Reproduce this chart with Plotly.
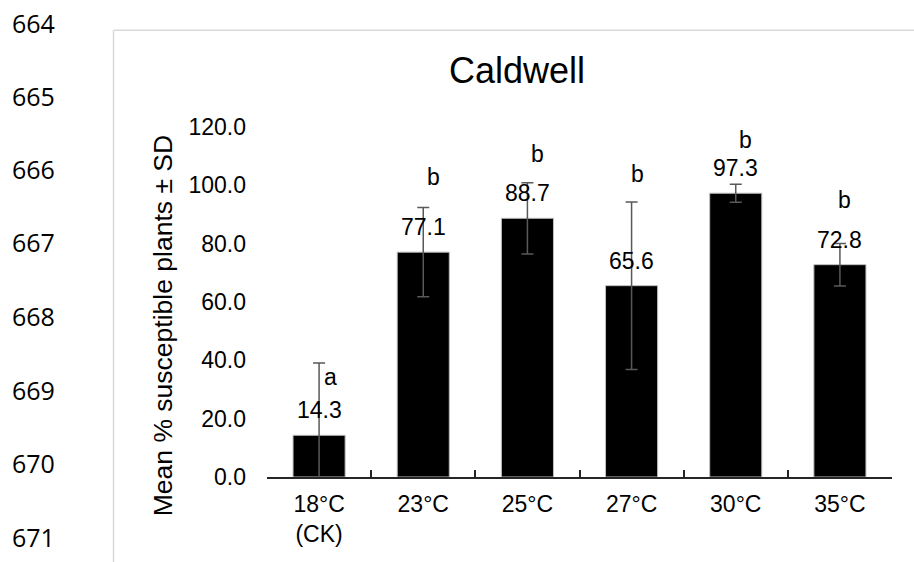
import plotly.graph_objects as go

# ---- data ----
categories = ["18°C<br>(CK)", "23°C", "25°C", "27°C", "30°C", "35°C"]
means = [14.3, 77.1, 88.7, 65.6, 97.3, 72.8]
sds = [24.8, 15.3, 12.2, 28.7, 3.1, 7.3]
letters = ["a", "b", "b", "b", "b", "b"]
letter_y = [34.3, 102.8, 110.8, 104.0, 115.4, 95.0]
letter_dx = [11, 10, 10, 6, 10, 5]
y_ticks = [0, 20, 40, 60, 80, 100, 120]
line_numbers = ["664", "665", "666", "667", "668", "669", "670", "671"]
line_number_py = [22, 95.5, 169, 242, 316, 390, 463, 537]

# ---- layout geometry (screen pixels; body margin removed via post_script) ----
W, H = 914, 562
L, R, T, B = 267, 892, 126.5, 477


def px_x(px):
    return (px - L) / (R - L)


def px_y(py):
    return (B - py) / (B - T)


FONT = "Liberation Sans, Arial, sans-serif"

fig = go.Figure()
fig.add_trace(go.Bar(
    x=categories,
    y=means,
    marker=dict(color="#000000", line=dict(color="#bfbfbf", width=1)),
    error_y=dict(type="data", array=sds, visible=True,
                 color="#595959", thickness=1.5, width=6),
    showlegend=False,
    hoverinfo="x+y",
))

annotations = []
# data labels
for c, m in zip(categories, means):
    annotations.append(dict(
        x=c, y=m, xref="x", yref="y", text=f"{m:.1f}", showarrow=False,
        yanchor="middle", xanchor="center", yshift=25,
        font=dict(family=FONT, size=23, color="#000000")))
# significance letters
for c, lt, ly, dx in zip(categories, letters, letter_y, letter_dx):
    annotations.append(dict(
        x=c, y=ly, xref="x", yref="y", text=lt, showarrow=False,
        yanchor="middle", xanchor="center", xshift=dx,
        font=dict(family=FONT, size=23, color="#000000")))
# title
annotations.append(dict(
    x=px_x(517), y=px_y(70), xref="paper", yref="paper", text="Caldwell",
    showarrow=False, xanchor="center", yanchor="middle",
    font=dict(family=FONT, size=36, color="#000000")))
# y axis title
annotations.append(dict(
    x=px_x(163), y=px_y(326), xref="paper", yref="paper",
    text="Mean % susceptible plants ± SD", textangle=-90,
    showarrow=False, xanchor="center", yanchor="middle",
    font=dict(family=FONT, size=26.5, color="#000000")))
# document line numbers
for ln, py in zip(line_numbers, line_number_py):
    annotations.append(dict(
        x=px_x(10), y=px_y(py), xref="paper", yref="paper", text=ln,
        showarrow=False, xanchor="left", yanchor="middle",
        font=dict(family="Open Sans, Noto Sans, sans-serif", size=25,
                  color="#000000")))

shapes = [
    # chart frame (top and left edges visible)
    dict(type="line", xref="paper", yref="paper",
         x0=px_x(113.5), x1=px_x(930), y0=px_y(29.5), y1=px_y(29.5),
         line=dict(color="#d9d9d9", width=1.5)),
    dict(type="line", xref="paper", yref="paper",
         x0=px_x(113.5), x1=px_x(113.5), y0=px_y(29.5), y1=px_y(580),
         line=dict(color="#d9d9d9", width=1.5)),
]

fig.update_layout(
    width=W, height=H, autosize=False,
    margin=dict(l=L, r=W - R, t=T, b=H - B, pad=0),
    paper_bgcolor="white", plot_bgcolor="white",
    bargap=0.5,
    annotations=annotations,
    shapes=shapes,
    xaxis=dict(
        showline=True, linecolor="#262626", linewidth=1.5,
        ticks="inside", ticklen=7, tickcolor="#262626", tickwidth=1.5,
        tickson="boundaries", showgrid=False, zeroline=False,
        tickfont=dict(family=FONT, size=23, color="#000000"),
        ticklabelstandoff=6,
    ),
    yaxis=dict(
        range=[0, 120], tickvals=y_ticks, tickformat=".1f",
        showline=False, showgrid=False, zeroline=False, ticks="",
        tickfont=dict(family=FONT, size=23, color="#000000"),
        ticklabelstandoff=20,
    ),
)

fig.write_html(
    "out.html",
    config={"displayModeBar": False},
    post_script="document.body.style.margin='0';document.body.style.overflow='hidden';",
)
